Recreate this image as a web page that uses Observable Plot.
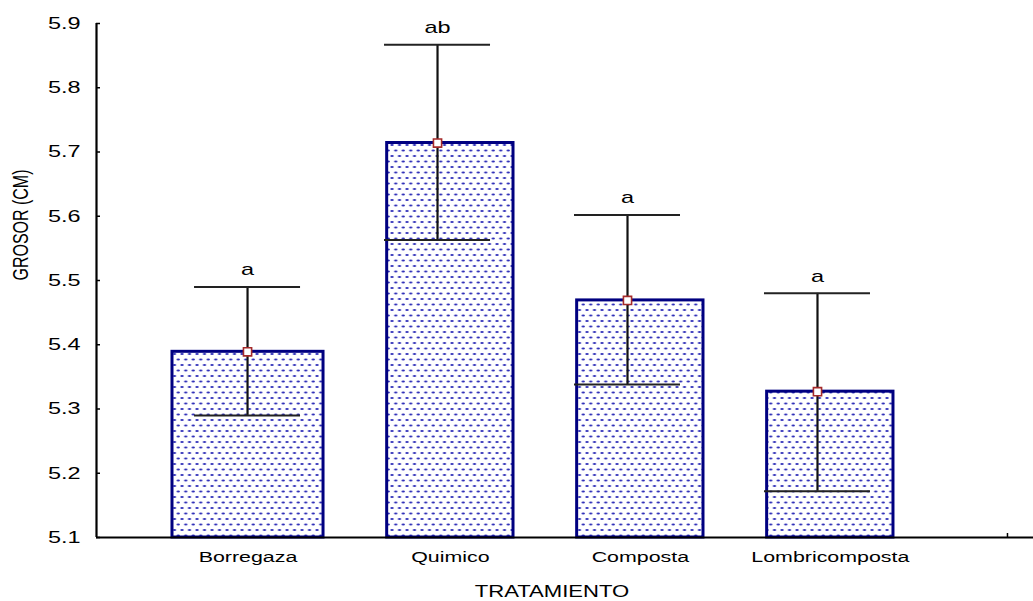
<!DOCTYPE html>
<html><head><meta charset="utf-8">
<script src="https://cdn.jsdelivr.net/npm/d3@7"></script>
<script src="https://cdn.jsdelivr.net/npm/@observablehq/plot@0.6"></script>
<style>
body{margin:0;background:#fff;}
svg text{font-family:"Liberation Sans",Arial,sans-serif;}
</style></head><body><div id="chart"></div>
<script>
// ---- data ----
const categories = ["Borregaza", "Quimico", "Composta", "Lombricomposta"];
const means  = [5.389, 5.714, 5.469, 5.327];
const upper  = [5.490, 5.867, 5.602, 5.480];
const lower  = [5.290, 5.563, 5.338, 5.172];
const letters = ["a", "ab", "a", "a"];
const yTicks = [5.1, 5.2, 5.3, 5.4, 5.5, 5.6, 5.7, 5.8, 5.9];
const xAxisTick = [5];
const xTitle = "TRATAMIENTO";
const yTitle = "GROSOR (CM)";

// ---- layout constants ----
const W = 1033, H = 601;
const xDomain = [0.205, 5.137];
const yDomain = [5.1, 5.9];
const pxX = (xDomain[1] - xDomain[0]) / (W - 96);       // data units per px (x)
const pxY = (yDomain[1] - yDomain[0]) / (537 - 23);     // data units per px (y)
const stretch = 1.38;

const data = categories.map((c, i) => ({
  cat: c, pos: i + 1, mean: means[i], hi: upper[i], lo: lower[i], letter: letters[i],
  left: i === 0 ? 0.395 : 0.265, right: 0.4
}));

const plot = Plot.plot({
  width: W, height: H,
  marginLeft: 96, marginRight: 0, marginTop: 23, marginBottom: 64,
  x: {type: "linear", domain: xDomain, axis: null},
  y: {type: "linear", domain: yDomain, axis: null},
  style: {background: "white", fontFamily: "Liberation Sans, Arial, sans-serif", color: "black"},
  marks: [
    // bars
    Plot.rect(data, {
      x1: d => d.pos - d.left, x2: d => d.pos + d.right,
      y1: () => yDomain[0], y2: "mean",
      fill: "url(#dots)", stroke: "#000080", strokeWidth: 3
    }),
    // error bars
    Plot.ruleX(data, {x: "pos", y1: "lo", y2: "hi", stroke: "#111", strokeWidth: 2.2}),
    Plot.ruleY(data, {y: "hi", x1: d => d.pos - 53 * pxX, x2: d => d.pos + 53 * pxX, stroke: "#222", strokeWidth: 2}),
    Plot.ruleY(data, {y: "lo", x1: d => d.pos - 53 * pxX, x2: d => d.pos + 53 * pxX, stroke: "#222", strokeWidth: 2}),
    // mean markers
    Plot.dot(data, {x: "pos", y: "mean", symbol: "square", r: 4.6, fill: "white", stroke: "#a52a2a", strokeWidth: 1.6}),
    // group letters
    Plot.text(data, {x: "pos", y: "hi", text: "letter", dy: -17, fontSize: 17, fill: "black"}),
    // axes lines
    Plot.ruleX([xDomain[0]], {y1: yDomain[0], y2: yDomain[1], stroke: "black", strokeWidth: 2.2}),
    Plot.ruleY([yDomain[0]], {stroke: "black", strokeWidth: 2.2}),
    // y ticks
    Plot.ruleY(yTicks, {y: d => d, x1: () => xDomain[0], x2: () => xDomain[0] + 4 * pxX, stroke: "black", strokeWidth: 1.5}),
    Plot.text(yTicks, {x: () => xDomain[0], y: d => d, text: d => d.toFixed(1), textAnchor: "end", dx: -16, fontSize: 17, fill: "black"}),
    // x tick
    Plot.ruleX(xAxisTick, {x: d => d, y1: () => yDomain[0], y2: () => yDomain[0] + 4 * pxY, stroke: "black", strokeWidth: 1.5}),
    // category labels
    Plot.text(data, {x: d => d.pos + (d.right - d.left) / 2, y: () => yDomain[0], text: "cat", dy: 20, fontSize: 15.5, fill: "black"}),
    // axis titles
    Plot.text([xTitle], {x: () => (xDomain[0] + xAxisTick[0]) / 2, y: () => yDomain[0], text: d => d, dy: 54, fontSize: 16, fill: "black"}),
    Plot.text([yTitle], {frameAnchor: "left", text: d => d, rotate: -90, dx: -76, fontSize: 16, fill: "black"})
  ]
});

// pattern for the dotted bar fill
const ns = "http://www.w3.org/2000/svg";
const defs = document.createElementNS(ns, "defs");
defs.innerHTML = `<pattern id="dots" width="7.5" height="11" patternUnits="userSpaceOnUse">
  <rect width="7.5" height="11" fill="white"/>
  <ellipse cx="2" cy="2" rx="1.7" ry="1.1" fill="#2f2fb8"/>
  <ellipse cx="5.75" cy="7.5" rx="1.7" ry="1.1" fill="#2f2fb8"/>
</pattern>`;
plot.insertBefore(defs, plot.firstChild);

// horizontal stretch of the lettering (as in the original export)
plot.querySelectorAll("text").forEach(t => {
  const tr = t.getAttribute("transform") || "";
  if (tr.includes("rotate")) t.setAttribute("transform", tr.replace("rotate", `scale(${stretch},1) rotate`));
  else t.setAttribute("transform", tr + ` scale(${stretch},1)`);
});

document.getElementById("chart").appendChild(plot);
</script></body></html>
